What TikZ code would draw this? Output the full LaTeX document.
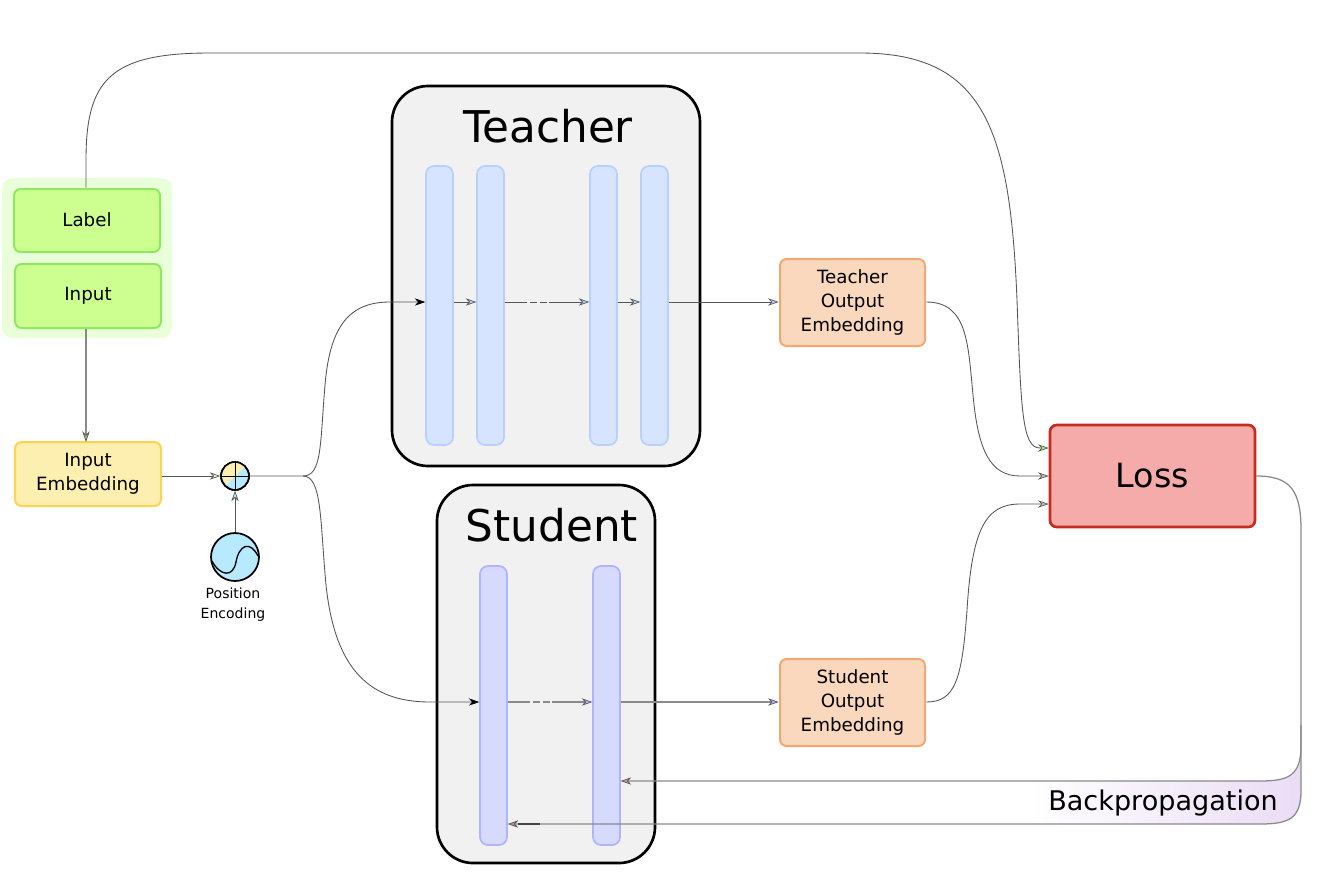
\documentclass[tikz,border=0pt]{standalone}
\usepackage{fontspec}
\setmainfont{DejaVu Sans}
\usetikzlibrary{arrows.meta,calc}
\definecolor{linegray}{HTML}{555555}
\definecolor{softgray}{HTML}{8A8A8A}
\tikzset{
  sz/.style 2 args={minimum width=#1*0.75pt,minimum height=#2*0.75pt},
  box/.style={rectangle,draw,line width=1.5pt,rounded corners=5pt,inner sep=0pt,outer sep=1pt,align=center,text=black,
    font=\fontsize{13.7}{18.3}\selectfont},
  greenbox/.style={box,fill=green1,draw=green2},
  yellowbox/.style={box,fill=yellow1,draw=yellow2},
  orangebox/.style={box,fill=orange1,draw=orange2},
  lossbox/.style={box,fill=red1,draw=red2,line width=2pt,font=\fontsize{25}{30}\selectfont},
  bigbox/.style={rectangle,draw=black,line width=2pt,fill=panel,rounded corners=27pt,inner sep=0pt,outer sep=0pt},
  tlayer/.style={rectangle,draw=tl2,fill=tl1,line width=1.3pt,rounded corners=6pt,inner sep=0pt,outer sep=0.5pt,sz={27}{279}},
  slayer/.style={rectangle,draw=sl2,fill=sl1,line width=1.3pt,rounded corners=6pt,inner sep=0pt,outer sep=0.5pt,sz={27}{279}},
  title/.style={inner sep=0pt,font=\fontsize{32.8}{38}\selectfont},
  conn/.style={draw=linegray,line width=0.65pt},
  soft/.style={draw=softgray,line width=0.95pt},
  tip/.style={-{Stealth[length=8pt,width=5.5pt,inset=2.6pt,fill=#1,line width=0.5pt,color=linegray]}},
}
\definecolor{green1}{HTML}{CCFF90}\definecolor{green2}{HTML}{8FE860}\definecolor{greenbg}{HTML}{E8FFDA}
\definecolor{yellow1}{HTML}{FCEFB0}\definecolor{yellow2}{HTML}{FFD24F}
\definecolor{orange1}{HTML}{F9D8BD}\definecolor{orange2}{HTML}{F4A870}
\definecolor{red1}{HTML}{F4ABA9}\definecolor{red2}{HTML}{C92A20}
\definecolor{panel}{HTML}{F1F1F1}
\definecolor{tl1}{HTML}{D6E4FF}\definecolor{tl2}{HTML}{B8D0FF}
\definecolor{sl1}{HTML}{D6DAFF}\definecolor{sl2}{HTML}{B0B4FF}
\definecolor{blue1}{HTML}{B8EAFF}\definecolor{purple1}{HTML}{EADCF5}
\begin{document}
\begin{tikzpicture}[x=0.75pt,y=-0.75pt]
\useasboundingbox (0,0) rectangle (1330,886);
% group behind the label and input
\node[rectangle,fill=greenbg,rounded corners=8pt,inner sep=0pt,sz={170}{160}] (group) at (87,258) {};
\node[greenbox,sz={146}{63}] (label) at (87,220.5) {\raisebox{1.5pt}{Label}};
\node[greenbox,sz={146}{64}] (input) at (88,296) {Input};
\node[yellowbox,sz={146}{64}] (embed) at (88,474) {Input\\Embedding};
% panels
\node[bigbox,sz={308}{380}] (teacher) at (546,276) {};
\node[bigbox,sz={218}{378}] (student) at (546,674) {};
\node[title] (teachertitle) at (548,126) {Teacher};
\node[title] (studenttitle) at (552,525) {Student};
% layers
\node[tlayer] (t1) at (439.5,305.5) {};
\node[tlayer] (t2) at (490.5,305.5) {};
\node[tlayer] (t3) at (603.5,305.5) {};
\node[tlayer] (t4) at (654.5,305.5) {};
\node[slayer] (s1) at (493.5,705.5) {};
\node[slayer] (s2) at (606.5,705.5) {};
% outputs
\node[orangebox,sz={145}{87}] (tout) at (852.5,302.5) {Teacher\\Output\\Embedding};
\node[orangebox,sz={145}{87}] (sout) at (852.5,702.5) {Student\\Output\\Embedding};
\node[lossbox,sz={205}{102}] (loss) at (1152.5,476) {\raisebox{1.5pt}{Loss}};
% backpropagation band
\path[left color=white,right color=purple1]
  (1030,781) -- (1265,781) .. controls (1290,781) and (1301,775) .. (1301,750)
  -- (1301,790) .. controls (1301,818) and (1290,824) .. (1260,824) -- (1030,824) -- cycle;
\node[inner sep=0pt,font=\fontsize{20.3}{24}\selectfont] (bplabel) at (1163,803) {Backpropagation};
% adder
\node[circle,draw=black,line width=1.2pt,inner sep=0pt,minimum size=21pt,outer sep=0.5pt,fill=blue1] (sum) at (235,476) {};
\fill[yellow1] (sum.45) arc[start angle=45,end angle=225,radius=10pt] -- cycle;
\draw[black,line width=1.2pt] (sum.center) circle[radius=10.5pt];
\draw[black,line width=0.7pt] (sum.north) -- (sum.south) (sum.west) -- (sum.east);
% position encoding
\node[circle,draw=black,line width=1.3pt,inner sep=0pt,minimum size=36pt,outer sep=0.5pt,fill=blue1] (pos) at (235,557) {};
\draw[black,line width=1pt] (212,561) .. controls (220,576) and (233,578) .. (236,562)
  .. controls (239,545) and (250,540) .. (258,556);
\node[inner sep=0pt,align=center,font=\fontsize{10.5}{15}\selectfont] (poslabel) at (233,605) {Position\\Encoding};
% connectors
\draw[soft,tip=green2!60!gray] (input.south) ++(-2,0) -- ([xshift=-1.5pt,yshift=-1pt]embed.north);
\draw[conn,tip=yellow1] (embed.east |- sum.west) -- (sum.west);
\draw[conn,tip=blue1] (pos.north) -- (sum.south);
\draw[conn,-{Stealth[length=8pt,width=5.5pt,inset=2.6pt,color=black]}] (sum.east) -- (303,476) .. controls (322,476) and (320,445) .. (325,385)
  .. controls (330,325) and (350,302) .. (390,302) -- (t1.west |- 0,302);
\draw[conn,-{Stealth[length=8pt,width=5.5pt,inset=2.6pt,color=black]}] (303,476) .. controls (322,476) and (320,520) .. (326,585)
  .. controls (335,670) and (370,702) .. (430,702) -- (s1.west |- 0,702);
\draw[conn,tip=tl2] (t1.east |- 0,302) -- (t2.west |- 0,302);
\draw[conn,tip=tl2,dash pattern=on 17pt off 2.2pt on 5pt off 2.2pt on 5pt off 2.2pt on 40pt] (t2.east |- 0,302) -- (t3.west |- 0,302);
\draw[conn,tip=tl2] (t3.east |- 0,302) -- (t4.west |- 0,302);
\draw[conn,tip=tl2] (t4.east |- 0,302) -- (tout.west |- 0,302);
\draw[soft,tip=sl2,dash pattern=on 17pt off 2.2pt on 5pt off 2.2pt on 5pt off 2.2pt on 40pt] (s1.east |- 0,702) -- (s2.west |- 0,702);
\draw[soft,tip=sl2] (s2.east |- 0,702) -- (sout.west |- 0,702);
\draw[conn,tip=orange1!70!gray] (tout.east |- 0,302) .. controls (968,302) and (968,345) .. (973,395)
  .. controls (978,450) and (990,476) .. (1020,476) -- (loss.west);
\draw[conn,tip=orange1!70!gray] (sout.east |- 0,702) .. controls (955,702) and (962,680) .. (967,610)
  .. controls (972,530) and (985,504) .. (1020,504) -- (loss.west |- 0,504);
\draw[conn,tip=green1!50!green2] ([xshift=-0.75pt]label.north) -- (86,160) .. controls (86,80) and (110,53) .. (210,53)
  -- (860,53) .. controls (985,53) and (1010,130) .. (1017,300)
  .. controls (1021,410) and (1022,448) .. (1040,448) -- (loss.west |- 0,448);
\draw[soft,tip=red1!60!gray] (loss.east) .. controls (1290,476) and (1301,490) .. (1301,530) -- (1301,745)
  .. controls (1301,775) and (1290,781) .. (1260,781) -- (s2.east |- 0,781);
\draw[soft,tip=red1!50!gray] (1301,725) -- (1301,790) .. controls (1301,818) and (1290,824) .. (1260,824)
  -- (s1.east |- 0,824);
\draw[draw=softgray!50!black,line width=1.1pt] (540,824) -- (518,824);
\end{tikzpicture}
\end{document}
